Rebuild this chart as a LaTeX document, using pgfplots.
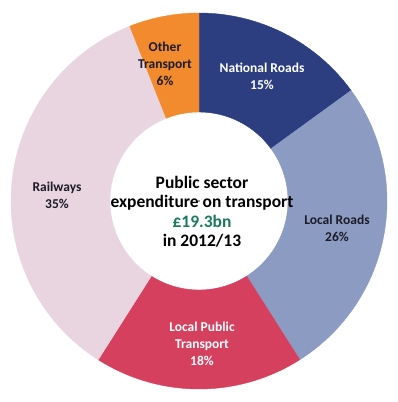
\documentclass[border=0pt]{standalone}
\usepackage{pgfplots}
\pgfplotsset{compat=1.18}
\usepackage{pgfplotstable}
\usepackage{fontspec}
\setmainfont{Carlito}
\definecolor{natroad}{HTML}{2C3E80}
\definecolor{locroad}{HTML}{8C9BC2}
\definecolor{lpt}{HTML}{D5405F}
\definecolor{rail}{HTML}{E8D5E0}
\definecolor{other}{HTML}{F28A2E}
\definecolor{darktxt}{HTML}{1C1C28}
\definecolor{greentxt}{HTML}{1A7A5A}
% centre x, centre y, share (%), start angle, end angle (clockwise from top)
\pgfplotstableread{
x y pct start end
199 201 15 90 36
}\natroads
\pgfplotstableread{
x y pct start end
199 201 26 36 -57.6
}\locroads
\pgfplotstableread{
x y pct start end
199 201 18 -57.6 -122.4
}\lpt
\pgfplotstableread{
x y pct start end
199 201 35 -122.4 -248.4
}\rail
\pgfplotstableread{
x y pct start end
199 201 6 -248.4 -270
}\other
\begin{document}
\begin{tikzpicture}
\begin{axis}[
  scale only axis, width=397pt, height=402pt,
  xmin=0, xmax=397, ymin=0, ymax=402,
  hide axis, clip=false,
  wedge/.style={
    only marks, scatter, mark=*, mark size=0.01pt,
    mark options={draw=none, fill=none},
    visualization depends on={\thisrow{start}\as\sa},
    visualization depends on={\thisrow{end}\as\ea},
    scatter/@pre marker code/.code={
      \fill[#1] (\sa:188pt) arc[start angle=\sa, end angle=\ea, radius=188pt]
        -- (\ea:89pt) arc[start angle=\ea, end angle=\sa, radius=89pt] -- cycle;
    },
    scatter/@post marker code/.code={},
  },
]
\addplot[wedge=natroad] table[x=x,y=y] {\natroads};
\addplot[wedge=locroad] table[x=x,y=y] {\locroads};
\addplot[wedge=lpt] table[x=x,y=y] {\lpt};
\addplot[wedge=rail] table[x=x,y=y] {\rail};
\addplot[wedge=other] table[x=x,y=y] {\other};
\end{axis}
\tikzset{lab/.style={font=\bfseries\fontsize{13.5}{17}\selectfont, align=center, inner sep=0pt}}
\node[lab, text=white] at (262pt,326pt) {National Roads\\15\%};
\node[lab, text=darktxt] at (337pt,174pt) {Local Roads\\26\%};
\node[lab, text=white] at (202pt,58pt) {Local Public\\Transport\\18\%};
\node[lab, text=darktxt] at (57pt,207pt) {Railways\\35\%};
\node[lab, text=darktxt] at (165pt,338pt) {Other\\Transport\\6\%};
\node[font=\bfseries\fontsize{17.5}{19.5}\selectfont, align=center, inner sep=0pt, text=black]
  at (202pt,190pt) {Public sector\\expenditure on transport\\\textcolor{greentxt}{£19.3bn}\\in 2012/13};
\pgfresetboundingbox
\path (0,0) rectangle (397pt,402pt);
\end{tikzpicture}
\end{document}
